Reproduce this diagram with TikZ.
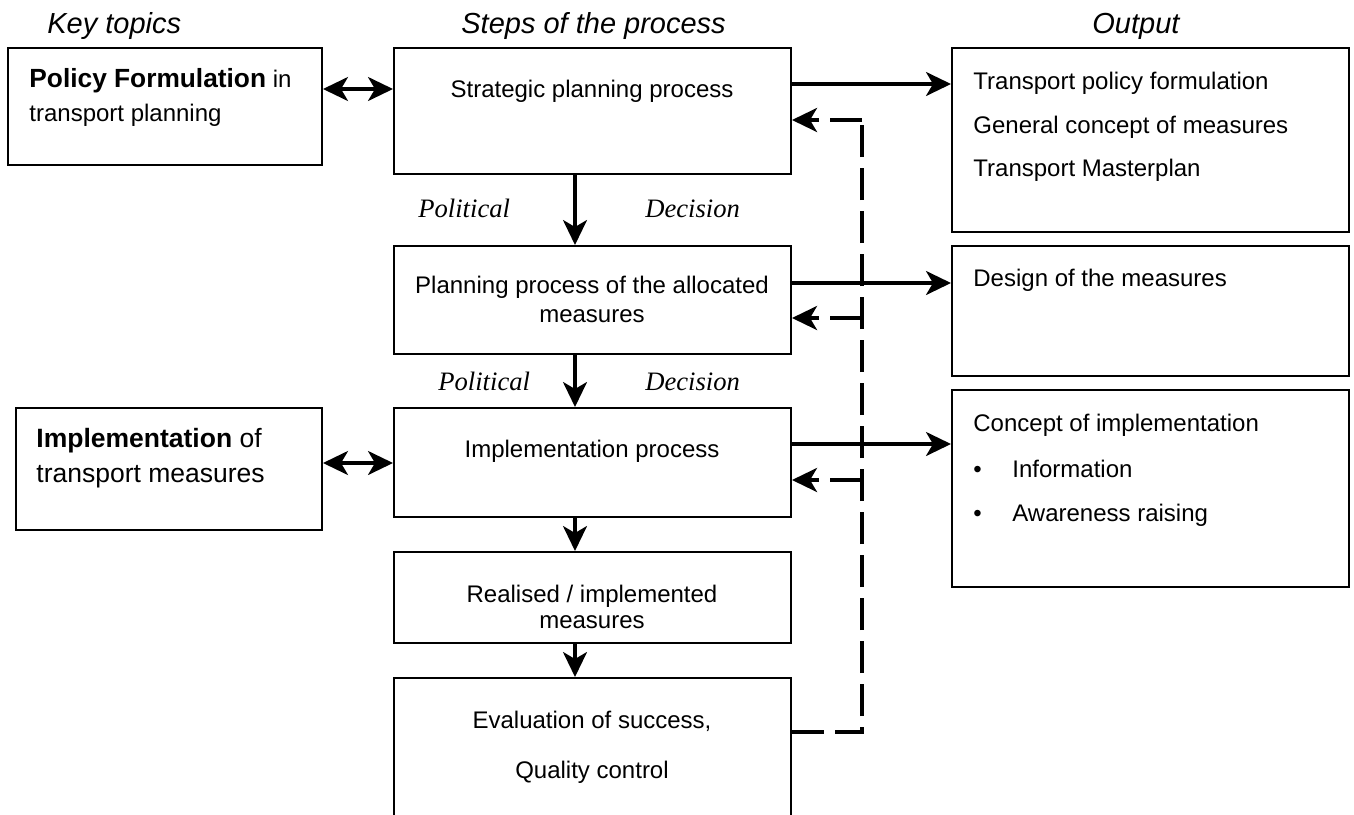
\documentclass[tikz,border=0pt]{standalone}
\usepackage{fontspec}
\setmainfont{Liberation Sans}
\newfontfamily\timesfont{Liberation Serif}
\usetikzlibrary{arrows.meta,fit}
\begin{document}
\begin{tikzpicture}[x=0.5pt,y=-0.5pt,
  box/.style={draw, line width=1pt, inner sep=0pt},
  arr/.style={line width=1.6pt, -{Stealth[length=12.5pt,width=12pt,inset=3.5pt]}},
  darr/.style={line width=1.6pt, {Stealth[length=12.5pt,width=12pt,inset=3.5pt]}-{Stealth[length=12.5pt,width=12pt,inset=3.5pt]}},
  fb/.style={line width=1.9pt, dash pattern=on 16pt off 5.5pt},
  tl/.style={inner sep=0pt, anchor=base west},
  head/.style={inner sep=0pt, anchor=base west, font=\fontsize{14.5}{17}\selectfont\itshape},
  steptxt/.style={inner sep=0pt, anchor=base, font=\fontsize{12}{14}\selectfont},
  outtxt/.style={inner sep=0pt, anchor=base west, font=\fontsize{12}{14}\selectfont},
  pol/.style={inner sep=0pt, anchor=base west, font=\fontsize{13.3}{16}\timesfont\itshape}
]
\useasboundingbox[fill=white] (0,0) rectangle (1354,814);

% headings
\node[head] (hk) at (47,33) {Key topics};
\node[head] (hs) at (461,33) {Steps of the process};
\node[head] (ho) at (1092,33) {Output};

% key topic boxes
\node[box, fit={(8,48)(322,165)}] (k1) {};
\node[box, fit={(16,408)(322,530)}] (k2) {};
\node[tl] (k1a) at (29,87) {\fontsize{13.15}{15}\selectfont\bfseries Policy Formulation\fontsize{12}{14}\selectfont\mdseries\ in};
\node[tl, font=\fontsize{12}{14}\selectfont] (k1b) at (29,121) {transport planning};
\node[tl] (k2a) at (36,447) {\fontsize{13.25}{15}\selectfont\bfseries Implementation\mdseries\ of};
\node[tl, font=\fontsize{13.25}{15}\selectfont] (k2b) at (36,482) {transport measures};

% step boxes
\node[box, fit={(394,48)(791,174)}] (sp) {};
\node[box, fit={(394,246)(791,354)}] (pp) {};
\node[box, fit={(394,408)(791,517)}] (ip) {};
\node[box, fit={(394,552)(791,643)}] (rm) {};
\node[box, fit={(394,678)(791,840)}] (ev) {};

\node[steptxt] (spt) at (592,97) {Strategic planning process};
\node[steptxt] (ppt1) at (592,293) {Planning process of the allocated};
\node[steptxt] (ppt2) at (592,322) {measures};
\node[steptxt] (ipt) at (592,457) {Implementation process};
\node[steptxt] (rmt1) at (592,602) {Realised / implemented};
\node[steptxt] (rmt2) at (592,628) {measures};
\node[steptxt] (evt1) at (592,728) {Evaluation of success,};
\node[steptxt] (evt2) at (592,778) {Quality control};

% output boxes
\node[box, fit={(952,48)(1349,232)}] (o1) {};
\node[box, fit={(952,246)(1349,376)}] (o2) {};
\node[box, fit={(952,390)(1349,587)}] (o3) {};

\node[outtxt] (o1a) at (973,89) {Transport policy formulation};
\node[outtxt] (o1b) at (973,133) {General concept of measures};
\node[outtxt] (o1c) at (973,176) {Transport Masterplan};
\node[outtxt] (o2a) at (973,286) {Design of the measures};
\node[outtxt] (o3a) at (973,431) {Concept of implementation};
\node[outtxt] (o3b) at (973,477) {\makebox[19.5pt][l]{•}Information};
\node[outtxt] (o3c) at (973,521) {\makebox[19.5pt][l]{•}Awareness raising};

% political decision labels
\node[pol] (p1) at (418,217) {Political};
\node[pol] (d1) at (645,217) {Decision};
\node[pol] (p2) at (438,390) {Political};
\node[pol] (d2) at (645,390) {Decision};

% helper coordinates
\coordinate (vx) at (575,0);
\coordinate (h0) at (0,89);
\coordinate (h1) at (0,84);
\coordinate (h2) at (0,283);
\coordinate (h3) at (0,444);
\coordinate (h4) at (0,463);
\coordinate (fbA) at (862,120);
\coordinate (fbB) at (862,318);
\coordinate (fbC) at (862,480);
\coordinate (fbD) at (862,732);

% double arrows
\draw[darr] (k1.east |- h0) -- (sp.west |- h0);
\draw[darr] (k2.east |- h4) -- (ip.west |- h4);

% vertical flow
\draw[arr] (sp.south -| vx) -- (pp.north -| vx);
\draw[arr] (pp.south -| vx) -- (ip.north -| vx);
\draw[arr] (ip.south -| vx) -- (rm.north -| vx);
\draw[arr] (rm.south -| vx) -- (ev.north -| vx);

% outputs
\draw[arr] (sp.east |- h1) -- (o1.west |- h1);
\draw[arr] (pp.east |- h2) -- (o2.west |- h2);
\draw[arr] (ip.east |- h3) -- (o3.west |- h3);

% feedback
\draw[fb] (ev.east |- fbD) -- (fbD) -- (fbA);
\draw[fb, arr, line width=1.9pt] (fbA) -- (sp.east |- fbA);
\draw[fb, arr, line width=1.9pt] (fbB) -- (pp.east |- fbB);
\draw[fb, arr, line width=1.9pt] (fbC) -- (ip.east |- fbC);
\end{tikzpicture}
\end{document}
